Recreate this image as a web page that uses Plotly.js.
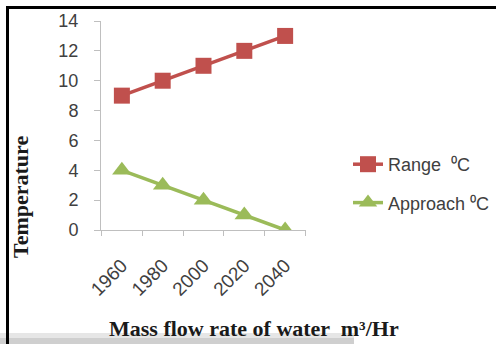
<!DOCTYPE html>
<html><head><meta charset="utf-8">
<script src="https://cdn.plot.ly/plotly-3.0.1.min.js"></script>
<style>html,body{margin:0;padding:0;background:#fff}#chart{width:496px;height:344px}</style>
</head><body><div id="chart"></div>
<script>
var categories = ["1960", "1980", "2000", "2020", "2040"];
var rangeValues = [9, 10, 11, 12, 13];
var approachValues = [4, 3, 2, 1, 0];
var seriesNames = ["Range  \u2070C", "Approach \u2070C"];
var yTicks = [0, 2, 4, 6, 8, 10, 12, 14];

var W = 496, H = 344, L = 101, R = 190, T = 21, B = 114;
var pw = W - L - R, ph = H - T - B;
function px(x) { return (x - L) / pw; }
function py(y) { return (H - B - y) / ph; }

var traces = [
  {x: categories, y: rangeValues, name: seriesNames[0], type: "scatter", mode: "lines+markers",
   legendgroup: "a",
   line: {color: "#C0504D", width: 3.5}, marker: {symbol: "square", size: 16, color: "#C0504D"}},
  {x: categories, y: approachValues, name: seriesNames[1], type: "scatter", mode: "lines+markers",
   legendgroup: "b",
   line: {color: "#9BBB59", width: 3.5}, marker: {symbol: "triangle-up", size: 17, color: "#9BBB59"}}
];

var layout = {
  width: W, height: H,
  margin: {l: L, r: R, t: T, b: B, pad: 0, autoexpand: false},
  paper_bgcolor: "#fff", plot_bgcolor: "#fff",
  font: {family: "Liberation Sans, Arial, sans-serif", size: 18, color: "#404040"},
  showlegend: true,
  legend: {x: px(348), y: py(146), xanchor: "left", yanchor: "top", bgcolor: "rgba(0,0,0,0)",
           font: {size: 18, color: "#404040"}, traceorder: "grouped", tracegroupgap: 12, itemwidth: 30},
  xaxis: {type: "category", tickson: "boundaries", ticks: "outside", ticklen: 5, tickcolor: "#bfbfbf",
          showline: true, linecolor: "#bfbfbf", linewidth: 1, showgrid: false, zeroline: false,
          tickangle: -45, ticklabelstandoff: 16, ticklabelshift: 0,
          tickfont: {size: 19, color: "#404040"}, fixedrange: true},
  yaxis: {range: [0, 14], tickvals: yTicks, ticks: "outside", ticklen: 6, tickcolor: "#bfbfbf",
          showline: true, linecolor: "#bfbfbf", linewidth: 1, showgrid: false, zeroline: false,
          ticklabelstandoff: 12,
          tickfont: {size: 18, color: "#404040"}, fixedrange: true},
  shapes: [
    {type: "rect", xref: "paper", yref: "paper", x0: px(0), x1: px(354), y0: py(333), y1: py(338),
     fillcolor: "#e6e6e6", line: {width: 0}, layer: "below"},
    {type: "rect", xref: "paper", yref: "paper", x0: px(0), x1: px(354), y0: py(338), y1: py(344),
     fillcolor: "#cfcfcf", line: {width: 0}, layer: "below"},
    {type: "line", xref: "paper", yref: "paper", x0: px(6), x1: px(497), y0: py(7.5), y1: py(7.5),
     line: {color: "#000", width: 3}},
    {type: "line", xref: "paper", yref: "paper", x0: px(7.5), x1: px(7.5), y0: py(6), y1: py(344),
     line: {color: "#000", width: 3}}
  ],
  annotations: [
    {text: "<b>Temperature</b>", xref: "paper", yref: "paper", x: px(20), y: py(197), showarrow: false,
     textangle: -90, font: {family: "Liberation Serif, Times New Roman, serif", size: 22, color: "#1a1a1a"},
     xanchor: "center", yanchor: "middle"},
    {text: "<b>Mass flow rate of water  m\u00b3/Hr</b>", xref: "paper", yref: "paper", x: px(254), y: py(328),
     showarrow: false, font: {family: "Liberation Serif, Times New Roman, serif", size: 22, color: "#1a1a1a"},
     xanchor: "center", yanchor: "middle"}
  ]
};

Plotly.newPlot("chart", traces, layout, {displayModeBar: false, staticPlot: true});
</script></body></html>
